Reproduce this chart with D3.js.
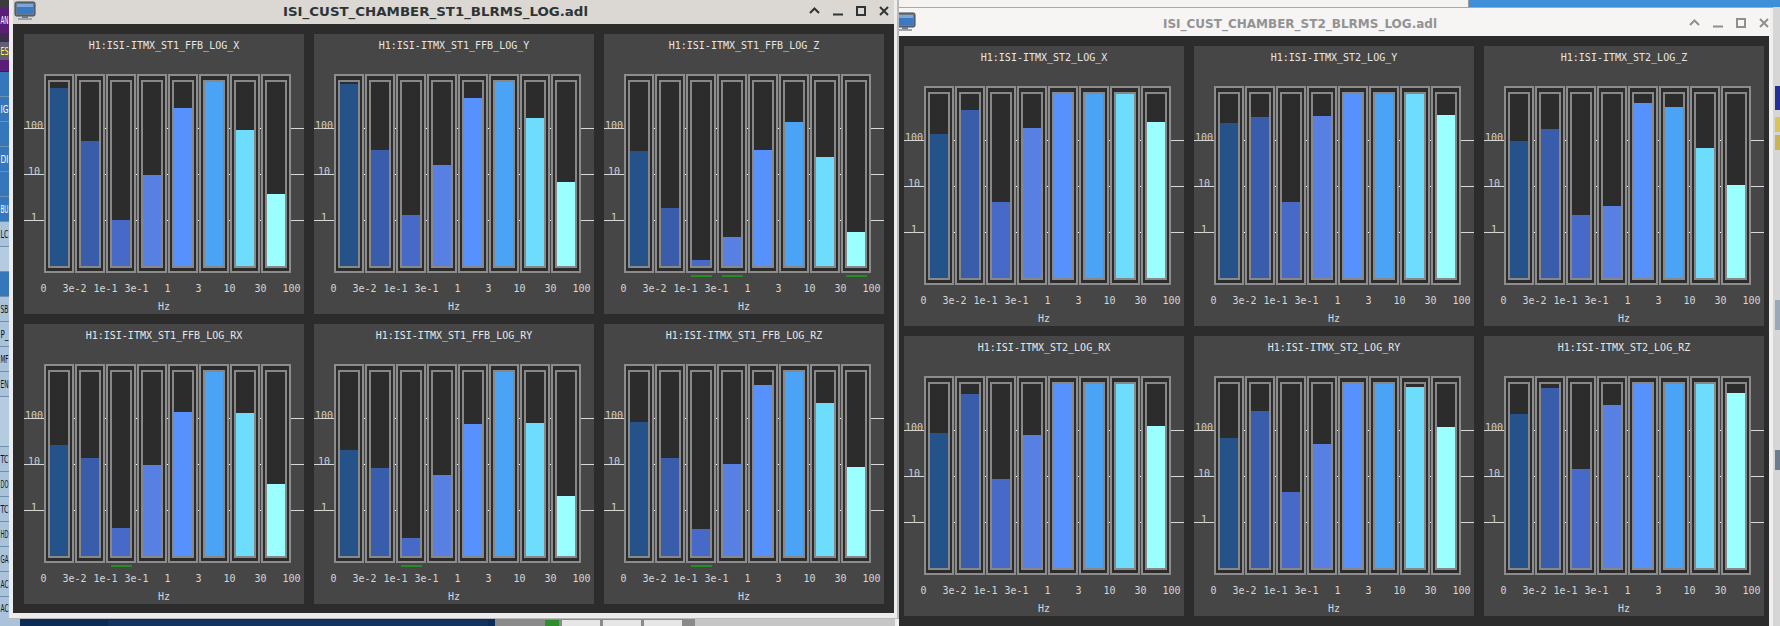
<!DOCTYPE html>
<html>
<head>
<meta charset="utf-8">
<script src="https://cdn.jsdelivr.net/npm/d3@7"></script>
<style>
  html, body { margin: 0; padding: 0; background: #2c2c2c; overflow: hidden; }
  svg { display: block; }
</style>
</head>
<body>
<svg id="screen" width="1780" height="626"></svg>
<script>
// ---------------- data ----------------
const bandEdges = ["0", "3e-2", "1e-1", "3e-1", "1", "3", "10", "30", "100"];
const barColors = ["#245289", "#3a5dab", "#4769c7", "#5880e2", "#5791fe", "#4ba3f6", "#6edcfd", "#9bffff"];
const yTickValues = [1, 10, 100];
const yDomain = [0.1, 1000];
const lowAlarm = 1;
const channels = ["X", "Y", "Z", "RX", "RY", "RZ"];

const st1X  = [753, 53, 1.02, 9.4, 277, 1000, 92, 3.7];
const st1Y  = [920, 34, 1.3, 16, 456, 1000, 168, 6.8];
const st1Z  = [31, 1.8, 0.137, 0.43, 34, 137, 24, 0.56];
const st1RX = [26, 13.7, 0.41, 9.7, 137, 1000, 131, 3.7];
const st1RY = [20.5, 8.3, 0.25, 5.9, 75, 1000, 79, 2.05];
const st1RZ = [83, 13.7, 0.39, 10.2, 530, 1000, 215, 8.75];

const st2X  = [134, 445, 4.5, 180, 1000, 1000, 1000, 242];
const st2Y  = [233, 313, 4.5, 331, 1000, 1000, 1000, 344];
const st2Z  = [95, 171, 2.4, 3.7, 631, 515, 67, 10.6];
const st2RX = [86, 597, 8.6, 77, 1000, 1000, 1000, 120];
const st2RY = [67, 256, 4.5, 50, 1000, 1000, 863, 116];
const st2RZ = [221, 802, 14.2, 344, 1000, 1000, 1000, 631];

const st1Values = [st1X, st1Y, st1Z, st1RX, st1RY, st1RZ];
const st2Values = [st2X, st2Y, st2Z, st2RX, st2RY, st2RZ];
const st1Prefix = "H1:ISI-ITMX_ST1_FFB_LOG_";
const st2Prefix = "H1:ISI-ITMX_ST2_LOG_";
const st1Window = "ISI_CUST_CHAMBER_ST1_BLRMS_LOG.adl";
const st2Window = "ISI_CUST_CHAMBER_ST2_BLRMS_LOG.adl";

// ---------------- drawing ----------------
const svg = d3.select("#screen").attr("shape-rendering", "crispEdges");
const MONO = "'DejaVu Sans Mono', 'Liberation Mono', monospace";
const SANS = "'DejaVu Sans', 'Noto Sans', sans-serif";

svg.append("rect").attr("x", 0).attr("y", 0).attr("width", 1780).attr("height", 626).attr("fill", "#2c2c2c");

// left strip (another application behind)
const leftSegs = [
  [0, 7, "#3c3c3c", "", ""],
  [7, 33, "#5a1d78", "AN", "#ffffff"],
  [33, 42, "#3d2c4a", "", ""],
  [42, 60, "#625e72", "ES", "#ffff40"],
  [60, 71, "#5a1d78", "", ""],
  [72, 96, "#3577ba", "", ""],
  [97, 121, "#3577ba", "IG", "#ffffff"],
  [122, 146, "#3577ba", "", ""],
  [147, 171, "#3577ba", "DI", "#ffffff"],
  [172, 196, "#3577ba", "", ""],
  [197, 221, "#3577ba", "BU", "#ffffff"],
  [222, 246, "#aac3db", "LC", "#111111"],
  [247, 271, "#b5cbe0", "", ""],
  [272, 296, "#3577ba", "", ""],
  [297, 321, "#aac3db", "SB", "#111111"],
  [322, 346, "#aac3db", "P_", "#111111"],
  [347, 371, "#aac3db", "MF", "#111111"],
  [372, 396, "#aac3db", "EN", "#111111"],
  [397, 446, "#b5cbe0", "", ""],
  [447, 471, "#aac3db", "TC", "#111111"],
  [472, 496, "#aac3db", "DO", "#111111"],
  [497, 521, "#aac3db", "TC", "#111111"],
  [522, 546, "#aac3db", "HD", "#111111"],
  [547, 571, "#aac3db", "GA", "#111111"],
  [572, 596, "#aac3db", "AC", "#111111"],
  [597, 618, "#aac3db", "AC", "#111111"]
];
const defs = svg.append("defs");
const leftG = svg.append("g");
leftSegs.forEach(s => {
  leftG.append("rect").attr("x", 0).attr("y", s[0]).attr("width", 9).attr("height", s[1] - s[0]).attr("fill", s[2]);
  if (s[0] >= 72) leftG.append("rect").attr("x", 0).attr("y", s[1]).attr("width", 9).attr("height", 1).attr("fill", "#6f8fae");
  if (s[3]) leftG.append("text").attr("x", 0.5).attr("y", (s[0] + s[1]) / 2 + 4)
      .attr("font-family", SANS).attr("font-size", 11).attr("fill", s[4])
      .attr("textLength", 8).attr("lengthAdjust", "spacingAndGlyphs").text(s[3]);
});

// bottom strip below window 1
svg.append("rect").attr("x", 0).attr("y", 618).attr("width", 20).attr("height", 8).attr("fill", "#aac3db");
svg.append("rect").attr("x", 20).attr("y", 618).attr("width", 475).attr("height", 8).attr("fill", "#0c2b55");
svg.append("rect").attr("x", 108).attr("y", 620).attr("width", 380).attr("height", 6).attr("fill", "#13335e");
svg.append("rect").attr("x", 495).attr("y", 618).attr("width", 200).attr("height", 8).attr("fill", "#8a8a8a");
svg.append("rect").attr("x", 545).attr("y", 620).attr("width", 14).attr("height", 6).attr("fill", "#2f8f2f");
svg.append("rect").attr("x", 562).attr("y", 620).attr("width", 38).attr("height", 6).attr("fill", "#e6e6e6");
svg.append("rect").attr("x", 603).attr("y", 620).attr("width", 38).attr("height", 6).attr("fill", "#e6e6e6");
svg.append("rect").attr("x", 644).attr("y", 620).attr("width", 38).attr("height", 6).attr("fill", "#e6e6e6");
svg.append("rect").attr("x", 695).attr("y", 618).attr("width", 200).attr("height", 8).attr("fill", "#c6c6c6");

// top strip above window 2
svg.append("rect").attr("x", 895).attr("y", 0).attr("width", 574).attr("height", 7).attr("fill", "#f4f3f2");
svg.append("rect").attr("x", 1468).attr("y", 0).attr("width", 1).attr("height", 7).attr("fill", "#9a9a9a");
svg.append("rect").attr("x", 1469).attr("y", 0).attr("width", 311).attr("height", 7).attr("fill", "#3f8fd8");

// right strip
svg.append("rect").attr("x", 1773).attr("y", 7).attr("width", 7).attr("height", 619).attr("fill", "#d6d6d6");
[[86, 110, "#22309a"], [117, 132, "#d9c45a"], [135, 150, "#c9b454"], [300, 330, "#9aa8b8"], [450, 470, "#6b7d8f"]]
  .forEach(r => svg.append("rect").attr("x", 1775).attr("y", r[0]).attr("width", 5).attr("height", r[1] - r[0]).attr("fill", r[2]));

// ---------------- window 2 (behind) ----------------
svg.append("rect").attr("x", 895).attr("y", 7).attr("width", 878).attr("height", 1).attr("fill", "#a8a8a8");
svg.append("rect").attr("x", 895).attr("y", 8).attr("width", 878).attr("height", 618).attr("fill", "#f0efee");
svg.append("rect").attr("x", 899).attr("y", 8).attr("width", 871).attr("height", 28).attr("fill", "#f6f5f4");
svg.append("rect").attr("x", 899).attr("y", 36).attr("width", 870).attr("height", 590).attr("fill", "#2c2c2c");

function drawIcon(g, x, y) {
  g.append("rect").attr("x", x).attr("y", y).attr("width", 20).attr("height", 14).attr("rx", 1.5)
    .attr("fill", "#6d7b88").attr("stroke", "#3c434a").attr("stroke-width", 1);
  g.append("rect").attr("x", x + 2).attr("y", y + 2).attr("width", 16).attr("height", 10).attr("fill", "#3d79c0");
  g.append("rect").attr("x", x + 2).attr("y", y + 2).attr("width", 16).attr("height", 3).attr("fill", "#7aa7dc");
  g.append("rect").attr("x", x + 7).attr("y", y + 14).attr("width", 6).attr("height", 2).attr("fill", "#6d7b88");
  g.append("rect").attr("x", x + 3).attr("y", y + 16).attr("width", 14).attr("height", 2).attr("fill", "#9aa3ab");
}
defs.append("clipPath").attr("id", "w2IconClip").append("rect").attr("x", 899).attr("y", 8).attr("width", 40).attr("height", 28);
drawIcon(svg.append("g").attr("clip-path", "url(#w2IconClip)").attr("shape-rendering", "auto"), 895, 13);

svg.append("text").attr("x", 1300).attr("y", 27.5).attr("text-anchor", "middle")
  .attr("font-family", SANS).attr("font-weight", "bold").attr("font-size", 13)
  .attr("fill", "#929394").attr("textLength", 274).attr("lengthAdjust", "spacingAndGlyphs").text(st2Window);

function drawButtons(g, x0, yc, color) {
  const b = g.append("g").attr("fill", "none").attr("stroke", color).attr("stroke-width", 2).attr("shape-rendering", "auto");
  b.append("path").attr("d", `M${x0},${yc + 2.5} L${x0 + 4.5},${yc - 2} L${x0 + 9},${yc + 2.5}`);
  b.append("path").attr("d", `M${x0 + 23},${yc + 4} L${x0 + 33},${yc + 4}`);
  b.append("rect").attr("x", x0 + 47).attr("y", yc - 3.5).attr("width", 8).attr("height", 8);
  b.append("path").attr("d", `M${x0 + 70},${yc - 3.5} L${x0 + 78},${yc + 4.5} M${x0 + 78},${yc - 3.5} L${x0 + 70},${yc + 4.5}`);
}
drawButtons(svg, 1690, 22.5, "#8e8f90");

// ---------------- window 1 (front) ----------------
svg.append("rect").attr("x", 9).attr("y", 0).attr("width", 890).attr("height", 619).attr("fill", "#ececec");
svg.append("rect").attr("x", 897).attr("y", 0).attr("width", 2).attr("height", 619).attr("fill", "#b9b9b9");
svg.append("rect").attr("x", 9).attr("y", 618).attr("width", 890).attr("height", 1).attr("fill", "#b9b9b9");
svg.append("rect").attr("x", 13).attr("y", 0).attr("width", 881).attr("height", 24).attr("fill", "#dbd8d4");
svg.append("rect").attr("x", 13).attr("y", 24).attr("width", 881).attr("height", 589).attr("fill", "#2c2c2c");
drawIcon(svg.append("g").attr("shape-rendering", "auto"), 15, 2);
svg.append("text").attr("x", 435.5).attr("y", 16).attr("text-anchor", "middle")
  .attr("font-family", SANS).attr("font-weight", "bold").attr("font-size", 13)
  .attr("fill", "#2e3436").attr("textLength", 305).attr("lengthAdjust", "spacingAndGlyphs").text(st1Window);
drawButtons(svg, 810, 10.5, "#2e3436");

// ---------------- panels ----------------
const PW = 280, PH = 280;
const xEdge = d3.scaleLinear().domain([0, bandEdges.length - 1]).range([20, 268]);
const y = d3.scaleLog().domain(yDomain).range([232, 48]).clamp(true);

function drawPanel(px, py, title, values) {
  const g = svg.append("g").attr("transform", `translate(${px},${py})`);
  g.append("rect").attr("width", PW).attr("height", PH).attr("fill", "#464646");
  g.append("text").attr("x", 140).attr("y", 15).attr("text-anchor", "middle")
    .attr("font-family", MONO).attr("font-size", 10).attr("fill", "#e6e6e6").text(title);

  yTickValues.forEach(t => {
    const ty = Math.round(y(t));
    g.append("rect").attr("x", 0).attr("y", ty).attr("width", 20).attr("height", 1).attr("fill", "#d9d9d9");
    g.append("rect").attr("x", 267).attr("y", ty).attr("width", 13).attr("height", 1).attr("fill", "#d9d9d9");
    g.append("text").attr("x", 10).attr("y", ty + 0.5).attr("text-anchor", "middle")
      .attr("font-family", MONO).attr("font-size", 10).attr("fill", "#d0d0d0").text(d3.format("d")(t));
  });

  values.forEach((v, i) => {
    const x0 = xEdge(i);
    const w = xEdge(i + 1) - x0 - 1;
    g.append("rect").attr("x", x0).attr("y", 40).attr("width", w).attr("height", 199).attr("fill", "#8c8c8c");
    g.append("rect").attr("x", x0 + 2).attr("y", 42).attr("width", w - 4).attr("height", 195).attr("fill", "#2c2c2c");
    g.append("rect").attr("x", x0 + 4).attr("y", 46).attr("width", w - 8).attr("height", 188).attr("fill", "#888888");
    g.append("rect").attr("x", x0 + 6).attr("y", 48).attr("width", w - 12).attr("height", 184).attr("fill", "#2c2c2c");
    const top = y(v);
    g.append("rect").attr("x", x0 + 6).attr("y", top).attr("width", w - 12).attr("height", y.range()[0] - top)
      .attr("fill", barColors[i]);
    if (v < lowAlarm) {
      g.append("rect").attr("x", x0 + 5).attr("y", 241).attr("width", w - 9).attr("height", 2).attr("fill", "#1f8f1f");
    }
    if (i < values.length - 1) {
      yTickValues.forEach(t => {
        g.append("rect").attr("x", xEdge(i + 1) - 1).attr("y", Math.round(y(t))).attr("width", 1).attr("height", 1).attr("fill", "#ffffff");
      });
    }
  });

  bandEdges.forEach((lab, i) => {
    g.append("text").attr("x", xEdge(i) - 0.5).attr("y", 258).attr("text-anchor", "middle")
      .attr("font-family", MONO).attr("font-size", 10).attr("fill", "#d6d6d6").text(lab);
  });
  g.append("text").attr("x", 140).attr("y", 276).attr("text-anchor", "middle")
    .attr("font-family", MONO).attr("font-size", 10).attr("fill", "#d6d6d6").text("Hz");
}

const w1x = [24, 314, 604], w1y = [34, 324];
const w2x = [904, 1194, 1484], w2y = [46, 336];
channels.forEach((ch, k) => {
  const col = k % 3, row = Math.floor(k / 3);
  drawPanel(w1x[col], w1y[row], st1Prefix + ch, st1Values[k]);
  drawPanel(w2x[col], w2y[row], st2Prefix + ch, st2Values[k]);
});
</script>
</body>
</html>
